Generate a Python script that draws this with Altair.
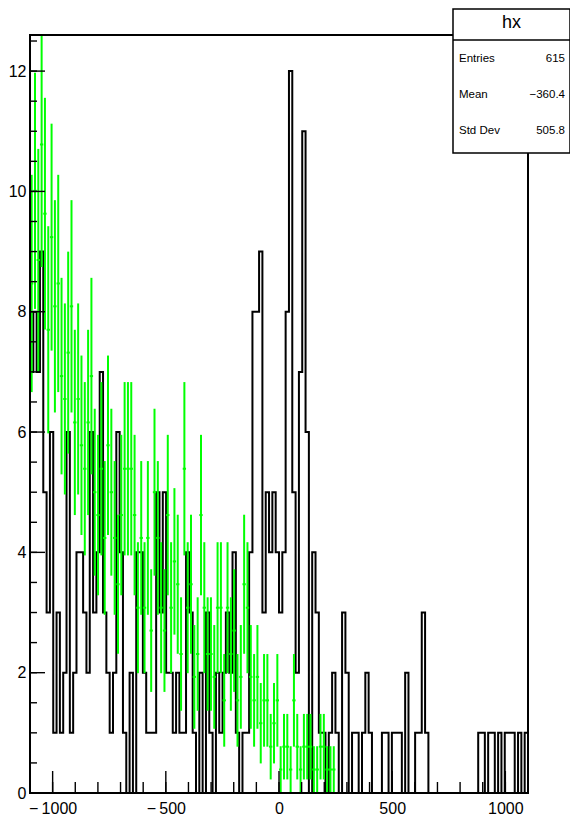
import altair as alt
import numpy as np
import pandas as pd

# ---------------- data ----------------
X_MIN, X_MAX = -1100, 1100
N_BINS = 150
Y_MAX = 12.6

black_counts = [
    7, 8, 7, 9, 5, 3, 6, 1, 3, 1, 2, 6, 1, 2, 4, 4, 3, 2, 6, 3, 4, 7, 3, 2, 1, 2,
    6, 4, 1, 0, 2, 0, 4, 4, 2, 1, 1, 1, 5, 3, 5, 2, 2, 1, 2, 1, 1, 4, 3,
    1, 0, 2, 0, 3, 1, 0, 2, 1, 2,
    3, 2, 4, 1, 0, 1, 1, 4, 8, 8,
    9, 3, 5, 4, 5, 4, 3, 4, 8, 12,
    5, 2, 7, 11, 6, 0, 4, 3, 1, 1,
    0, 1, 2, 1, 0, 3, 2, 0, 1, 1,
    0,
    1, 2, 1, 0, 0, 0, 1, 1, 0, 1, 1, 1, 0, 2, 0, 0, 1, 1, 3, 1,
    0, 0, 0, 0, 0, 0, 0, 0, 0, 0, 0, 0, 0, 0, 0,
    1, 1, 0, 1, 1, 0, 1, 0, 1, 1, 1, 0, 1, 0, 1,
]

green_values = [
    8.47, 10.01, 8.86, 10.78, 9.63, 7.70, 9.24, 8.09, 8.47, 6.93,
    6.55, 7.32, 8.09, 6.16, 6.55, 5.78, 5.39, 6.16, 6.93, 5.00,
    4.62, 5.39, 4.24, 5.78, 5.00, 4.24, 3.47, 4.62, 5.39, 5.39,
    5.39, 4.62, 3.08, 4.24, 3.08, 4.24, 2.70, 5.00, 4.24, 3.08,
    2.70, 4.62, 3.08, 3.85, 3.47, 2.31, 5.39, 3.08, 3.47, 1.93,
    2.31, 4.62, 3.08, 2.31, 2.31, 1.93, 3.08, 3.08, 1.54, 3.08,
    2.31, 2.70, 1.54, 1.93, 3.47, 3.08, 1.93, 1.54, 1.93, 1.16,
    1.54, 1.54, 0.77, 1.16, 1.54, 0.39, 0.77, 0.77, 0.39, 1.54,
    0.77, 0.39, 0.77, 0.77, 0.77, 0.39, 0.39, 0.77, 0.77, 0.39,
    0.39, 0.39,
]
green_weight = 0.385  # weight of one entry in the green histogram

x_major = [-1000, -500, 0, 500, 1000]
x_minor = list(range(-1100, 1101, 100))
y_major = [0, 2, 4, 6, 8, 10, 12]
y_minor = [i * 0.5 for i in range(26)]

stats_title = "hx"
stats_labels = ["Entries", "Mean", "Std Dev"]
stats_values = ["615", "\u2212360.4", "505.8"]

# ---------------- tables ----------------
edges = np.linspace(X_MIN, X_MAX, N_BINS + 1)
black_df = pd.DataFrame({"x": edges, "y": black_counts + [black_counts[-1]]})

g_rows = []
for i, v in enumerate(green_values):
    if v <= 0:
        continue
    e = float(np.sqrt(v * green_weight))
    g_rows.append({"lo": edges[i], "hi": edges[i + 1], "c": (edges[i] + edges[i + 1]) / 2,
                   "v": v, "vlo": max(v - e, 0), "vhi": v + e})
green_df = pd.DataFrame(g_rows)

W, H = 498, 758
FONT = "Liberation Sans"
GREEN = "#00ff00"

xs = alt.Scale(domain=[X_MIN, X_MAX], nice=False, zero=False)
ys = alt.Scale(domain=[0, Y_MAX], nice=False, zero=True)

x_axis = alt.Axis(values=x_major, ticks=False, tickSize=0, domain=False, grid=False,
                  labelFont=FONT, labelFontSize=16, labelColor="black", labelPadding=7,
                  labelExpr="datum.value < 0 ? '\u2212\u2009' + format(abs(datum.value), 'd') : format(datum.value, 'd')",
                  title=None)
y_axis = alt.Axis(values=y_major, ticks=False, tickSize=0, domain=False, grid=False,
                  labelFont=FONT, labelFontSize=16, labelColor="black", labelPadding=4,
                  format="d", title=None)

black_line = alt.Chart(black_df).mark_line(
    interpolate="step-after", color="black", strokeWidth=2, clip=True
).encode(
    x=alt.X("x:Q", scale=xs, axis=x_axis),
    y=alt.Y("y:Q", scale=ys, axis=y_axis),
)

green_v = alt.Chart(green_df).mark_rule(color=GREEN, strokeWidth=2, clip=True).encode(
    x=alt.X("c:Q", scale=xs, axis=x_axis),
    y=alt.Y("vlo:Q", scale=ys, axis=y_axis),
    y2="vhi:Q",
)
green_h = alt.Chart(green_df).mark_rule(color=GREEN, strokeWidth=2, clip=True).encode(
    x=alt.X("lo:Q", scale=xs, axis=x_axis),
    x2="hi:Q",
    y=alt.Y("v:Q", scale=ys, axis=y_axis),
)

xmin_df = pd.DataFrame({"v": x_minor})
xmaj_df = pd.DataFrame({"v": x_major})
ymin_df = pd.DataFrame({"v": y_minor})
ymaj_df = pd.DataFrame({"v": y_major})

xt_minor = alt.Chart(xmin_df).mark_rule(color="black", strokeWidth=1.4).encode(
    x=alt.X("v:Q", scale=xs, axis=x_axis), y=alt.value(H), y2=alt.value(H - 11))
xt_major = alt.Chart(xmaj_df).mark_rule(color="black", strokeWidth=1.4).encode(
    x=alt.X("v:Q", scale=xs, axis=x_axis), y=alt.value(H), y2=alt.value(H - 22))
yt_minor = alt.Chart(ymin_df).mark_rule(color="black", strokeWidth=1.4).encode(
    y=alt.Y("v:Q", scale=ys, axis=y_axis), x=alt.value(0), x2=alt.value(7))
yt_major = alt.Chart(ymaj_df).mark_rule(color="black", strokeWidth=1.4).encode(
    y=alt.Y("v:Q", scale=ys, axis=y_axis), x=alt.value(0), x2=alt.value(15))

one = pd.DataFrame({"k": [0]})
frame = alt.Chart(one).mark_rect(filled=False, stroke="black", strokeWidth=2).encode(
    x=alt.value(0), x2=alt.value(W), y=alt.value(0), y2=alt.value(H))

# stats box
BX0, BX1, BY0, BY1, BDIV = 423, 540, -26, 118, 5
box = alt.Chart(one).mark_rect(fill="white", stroke="black", strokeWidth=1.5).encode(
    x=alt.value(BX0), x2=alt.value(BX1), y=alt.value(BY0), y2=alt.value(BY1))
divider = alt.Chart(one).mark_rule(color="black", strokeWidth=1.5).encode(
    x=alt.value(BX0), x2=alt.value(BX1), y=alt.value(BDIV))
title_txt = alt.Chart(pd.DataFrame({"t": [stats_title]})).mark_text(
    font=FONT, fontSize=18, color="black", align="center", baseline="middle").encode(
    text="t:N", x=alt.value((BX0 + BX1) / 2), y=alt.value(-12))

stat_layers = []
for i, (lab, val) in enumerate(zip(stats_labels, stats_values)):
    yy = 24 + 36 * i
    stat_layers.append(alt.Chart(pd.DataFrame({"t": [lab]})).mark_text(
        font=FONT, fontSize=11.5, color="black", align="left", baseline="middle").encode(
        text="t:N", x=alt.value(BX0 + 6), y=alt.value(yy)))
    stat_layers.append(alt.Chart(pd.DataFrame({"t": [val]})).mark_text(
        font=FONT, fontSize=11.5, color="black", align="right", baseline="middle").encode(
        text="t:N", x=alt.value(BX1 - 5), y=alt.value(yy)))

chart = alt.layer(
    black_line, green_v, green_h, xt_minor, xt_major, yt_minor, yt_major, frame,
    box, divider, title_txt, *stat_layers
).properties(
    width=W, height=H,
    padding={"left": 22, "top": 27, "right": 42, "bottom": 24},
    autosize=alt.AutoSizeParams(type="none"),
    background="white",
).configure_view(stroke=None)

chart.save("out.html", embed_options={"renderer": "svg", "actions": False})
